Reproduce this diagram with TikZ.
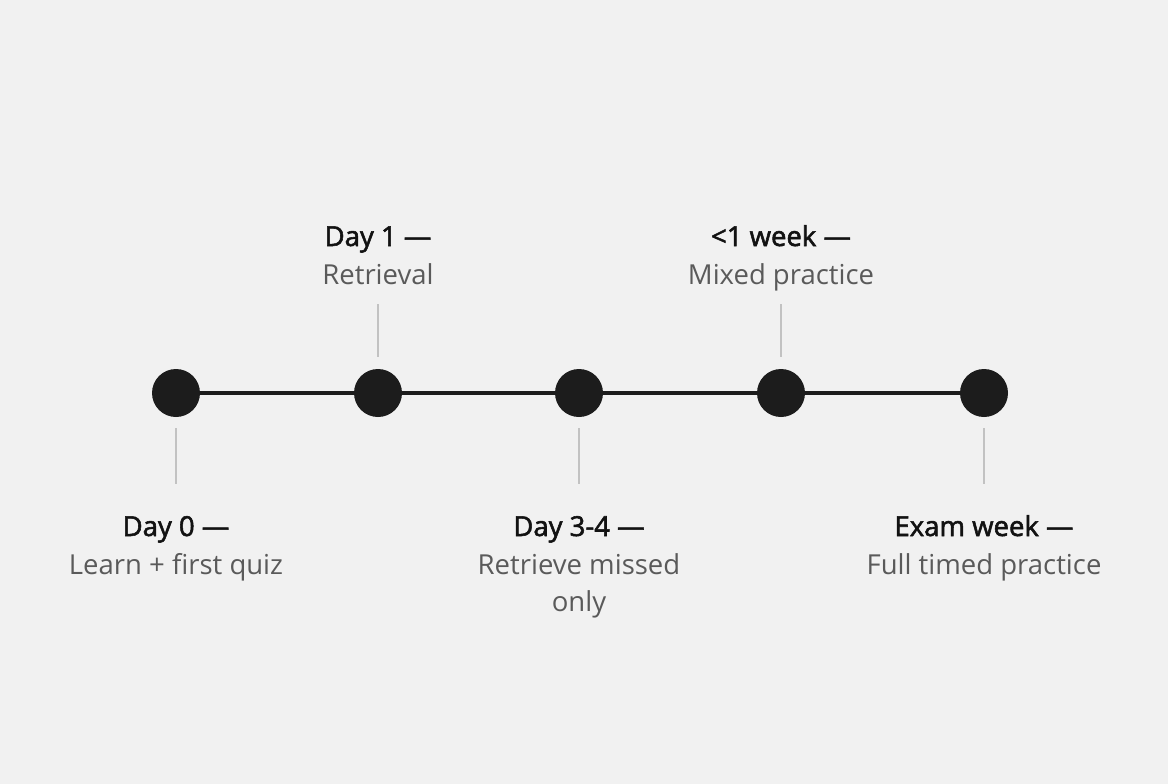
\documentclass[tikz,border=0pt]{standalone}
\usepackage{fontspec}
\setmainfont{Open Sans}
\newfontfamily\headfont{Open Sans}[FakeBold=2]
\usetikzlibrary{positioning}
\definecolor{bgcol}{HTML}{F1F1F1}
\definecolor{dotcol}{HTML}{1C1C1C}
\definecolor{tickcol}{HTML}{C2C2C2}
\definecolor{notecol}{HTML}{5A5A5A}

\begin{document}
\begin{tikzpicture}[x=1pt,y=-1pt,
  dot/.style={circle,fill=dotcol,minimum size=48pt,inner sep=0pt},
  spine/.style={draw=dotcol,line width=3.5pt},
  tick/.style={draw=tickcol,line width=1.8pt},
  heading/.style={font=\headfont\fontsize{27.5}{37}\selectfont,text=black!93,anchor=base,inner sep=0pt},
  note/.style={font=\fontsize{27.5}{37}\selectfont,text=notecol,anchor=base,align=center,inner sep=0pt}]
\fill [bgcol] (0,0) rectangle (1168,784);
\useasboundingbox (0,0) rectangle (1168,784);
% stops on the timeline
\node [dot] (d0) at (176,393) {};
\node [dot] (d1) at (378,393) {};
\node [dot] (d2) at (579,393) {};
\node [dot] (d3) at (781,393) {};
\node [dot] (d4) at (984,393) {};
\draw [spine] (d0) -- (d1) -- (d2) -- (d3) -- (d4);
% ticks below
\foreach \s in {d0,d2,d4}
  \draw [tick] (\s.south) ++(0,11) -- ++(0,56);
% ticks above
\foreach \s in {d1,d3}
  \draw [tick] (\s.north) ++(0,-12) -- ++(0,-53);
% labels below
\node [heading] (h0) at (176,536) {Day 0 —};
\node [note] (n0) at (176,574) {Learn + first quiz};
\node [heading] (h2) at (579,536) {Day 3-4 —};
\node [note] (n2) at (579,611) {Retrieve missed\\only};
\node [heading] (h4) at (984,536) {Exam week —};
\node [note] (n4) at (984,574) {Full timed practice};
% labels above
\node [heading] (h1) at (378,246) {Day 1 —};
\node [note] (n1) at (378,284) {Retrieval};
\node [heading] (h3) at (781,246) {<1 week —};
\node [note] (n3) at (781,284) {Mixed practice};
\end{tikzpicture}
\end{document}
